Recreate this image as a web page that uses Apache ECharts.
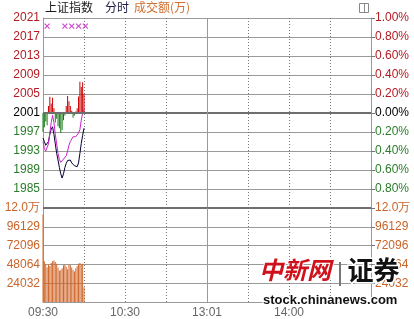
<!DOCTYPE html>
<html><head><meta charset="utf-8">
<script src="https://cdn.jsdelivr.net/npm/echarts@6/dist/echarts.min.js"></script>
<style>html,body{margin:0;padding:0;background:#fff}#c{width:414px;height:319px}</style>
</head><body><div id="c"></div>
<script>
// ---- data (one value per minute from 09:30) ----
const indexPrice = [1995.7,1995.0,1994.2,1993.9,1995.0,1996.5,1997.6,1998.1,1996.5,1994.5,1992.5,1991.1,1989.5,1988.2,1987.3,1988.2,1989.5,1990.4,1991.0,1991.3,1991.1,1990.5,1990.1,1989.9,1989.8,1989.7,1990.5,1992.5,1994.6,1996.3,1997.8];
const avgPrice = [1995.0,1993.5,1993.0,1993.2,1994.5,1996.8,1999.0,2000.5,1999.0,1996.5,1994.5,1992.5,1991.2,1990.6,1990.8,1991.3,1991.7,1992.0,1993.0,1994.2,1995.0,1995.5,1996.0,1996.3,1996.0,1996.3,1996.8,1997.5,1999.5,2001.0,2001.8];
const breadth = [-4.0,-3.0,-1.8,-2.6,1.5,3.4,2.0,3.2,1.0,-2.0,-1.2,-2.8,-3.2,-4.2,-3.6,-1.5,-0.5,1.5,3.6,2.5,1.5,0.5,-1.0,-0.5,0.3,1.0,3.5,6.6,5.5,6.5,4.0];
const volume = [112000,52000,48000,44000,48000,46000,50000,52000,53000,51000,49000,44000,40000,41000,43000,47000,48000,45000,42000,48000,47000,44000,41000,39000,43000,46000,49000,50000,48000,49000,19000];
const markerMinutes = [3,16,21,26,31];
const markerLevel = 2019.3;
// ---- tick labels ----
const timeTickMinutes = [0,60,120,180];
const timeTickLabels = ['09:30','10:30','13:01','14:00'];
const priceTicks = [2021,2017,2013,2009,2005,2001,1997,1993,1989,1985];
const pctTickLabels = ['1.00%','0.80%','0.60%','0.40%','0.20%','0.00%','0.20%','0.40%','0.60%','0.80%'];
const volTicks = [120160,96128,72096,48064,24032];
const volTickLabels = ['12.0万','96129','72096','48064','24032'];
const baseClose = 2001;

const RED='#b31b22', GREEN='#2a7d2a', ORANGE='#c8642a', GRID='#9a9a9a';
const FONT='"Liberation Sans", Arial, sans-serif';
const CJK='"Noto Sans CJK SC", sans-serif';

function priceColor(v){ v=Number(v); return v>baseClose+0.01?RED:(v<baseClose-0.01?GREEN:'#000'); }

const chart = echarts.init(document.getElementById('c'), null, {renderer:'canvas'});
const xBase = {
  type:'value', min:0, max:240, interval:30,
  axisTick:{show:false},
  axisLine:{show:false},
  splitLine:{show:true, lineStyle:{color:'#777', width:1, type:[1,2]}}
};
chart.setOption({
  animation:false,
  backgroundColor:'#fff',
  grid:[
    {left:43, right:43, top:18, height:190},
    {left:43, right:43, top:208, height:95}
  ],
  xAxis:[
    Object.assign({}, xBase, {gridIndex:0, axisLabel:{show:false}}),
    Object.assign({}, xBase, {gridIndex:1,
      axisLine:{show:true, lineStyle:{color:GRID, width:1}},
      axisLabel:{show:true, color:'#666', fontFamily:FONT, fontSize:12, margin:5,
        formatter:v=>{const i=timeTickMinutes.indexOf(v); return i<0?'':timeTickLabels[i];}}})
  ],
  yAxis:[
    {gridIndex:0, type:'value', min:1981, max:2021, interval:4, position:'left',
     axisLine:{show:true, lineStyle:{color:GRID}}, axisTick:{show:false},
     splitLine:{show:true, lineStyle:{color:GRID, width:1}},
     axisLabel:{fontFamily:FONT, fontSize:12, margin:3,
       color:v=>priceColor(v),
       formatter:v=>{const i=priceTicks.indexOf(Math.round(v)); return i<0?'':String(priceTicks[i]);}}},
    {gridIndex:0, type:'value', min:-1, max:1, interval:0.2, position:'right',
     axisLine:{show:true, lineStyle:{color:GRID}},
     axisTick:{show:true, length:4, lineStyle:{color:'#777'}},
     splitLine:{show:false},
     axisLabel:{fontFamily:FONT, fontSize:12, margin:4,
       color:v=>{v=Number(v); return v>0.001?RED:(v<-0.001?GREEN:'#000');},
       formatter:v=>{const i=Math.round((1-v)/0.2); return (i>=0&&i<pctTickLabels.length)?pctTickLabels[i]:'';}}},
    {gridIndex:0, type:'value', min:-20, max:20, show:false},
    {gridIndex:1, type:'value', min:0, max:120160, interval:24032, position:'left',
     axisLine:{show:true, lineStyle:{color:GRID}}, axisTick:{show:false},
     splitLine:{show:true, lineStyle:{color:GRID, width:1}},
     axisLabel:{fontFamily:FONT, fontSize:12, margin:3, color:ORANGE,
       formatter:v=>{const i=volTicks.indexOf(Math.round(v)); return i<0?'':volTickLabels[i];}}},
    {gridIndex:1, type:'value', min:0, max:120160, interval:24032, position:'right',
     axisLine:{show:true, lineStyle:{color:GRID}},
     axisTick:{show:true, length:4, lineStyle:{color:'#777'}},
     splitLine:{show:false},
     axisLabel:{fontFamily:FONT, fontSize:12, margin:4, color:ORANGE,
       formatter:v=>{const i=volTicks.indexOf(Math.round(v)); return i<0?'':volTickLabels[i];}}}
  ],
  series:[
    {type:'bar', xAxisIndex:0, yAxisIndex:2, barWidth:1, silent:true,
     data:breadth.map((v,i)=>[i,v]),
     itemStyle:{color:p=>p.value[1]>=0?'#cc0000':'#1a7a1a'}},
    {type:'line', xAxisIndex:0, yAxisIndex:0, symbol:'none', silent:true,
     data:indexPrice.map((v,i)=>[i,v]),
     lineStyle:{color:'#000033', width:1},
     markLine:{silent:true, symbol:'none', label:{show:false},
       data:[{yAxis:baseClose, lineStyle:{color:'#6e6e6e', width:2, type:'solid'}},
             {xAxis:120, lineStyle:{color:GRID, width:1, type:'solid'}}]}},
    {type:'line', xAxisIndex:0, yAxisIndex:0, symbol:'none', silent:true,
     data:avgPrice.map((v,i)=>[i,v]),
     lineStyle:{color:'#cc22cc', width:1}},
    {type:'scatter', xAxisIndex:0, yAxisIndex:0, silent:true,
     symbol:'path://M0,0L10,10M10,0L0,10', symbolSize:5,
     data:markerMinutes.map(m=>[m,markerLevel]),
     itemStyle:{color:'none', borderColor:'#c020c0', borderWidth:1.2}},
    {type:'bar', xAxisIndex:1, yAxisIndex:3, barWidth:1, silent:true,
     data:volume.map((v,i)=>[i,v]),
     itemStyle:{color:'#d0682c'},
     markLine:{silent:true, symbol:'none', label:{show:false},
       data:[{yAxis:120160, lineStyle:{color:'#6e6e6e', width:2, type:'solid'}},
             {xAxis:120, lineStyle:{color:GRID, width:1, type:'solid'}}]}}
  ],
  graphic:[
    {type:'text', left:45, top:1, style:{text:'上证指数', font:'12px '+CJK, fill:'#1a1a1a'}},
    {type:'text', left:105, top:1, style:{text:'分时', font:'12px '+CJK, fill:'#1a1a40'}},
    {type:'text', left:134, top:1, style:{text:'成交额(万)', font:'12px '+CJK, fill:'#d07030'}},
    {type:'rect', left:359, top:3, shape:{width:9, height:9}, style:{fill:'#fff', stroke:'#888', lineWidth:1}},
    {type:'line', shape:{x1:364.5, y1:3.5, x2:364.5, y2:12.5}, style:{stroke:'#888', lineWidth:1}},
    {type:'text', left:258, top:257, z:100, style:{text:'中新网', font:'italic bold 24px "Noto Sans CJK SC", serif', fill:'#d0101a', stroke:'#fff', lineWidth:2}},
    {type:'rect', left:339, top:262, z:100, shape:{width:2, height:24}, style:{fill:'#777'}},
    {type:'text', left:346, top:256, z:100, style:{text:'证券', font:'bold 26px "Noto Sans CJK SC", sans-serif', fill:'#111', stroke:'#fff', lineWidth:3}},
    {type:'text', left:262, top:293, z:100, style:{text:'stock.chinanews.com', font:'bold 13px "Liberation Sans", Arial, sans-serif', fill:'#111', stroke:'#fff', lineWidth:2}}
  ]
});
</script></body></html>
